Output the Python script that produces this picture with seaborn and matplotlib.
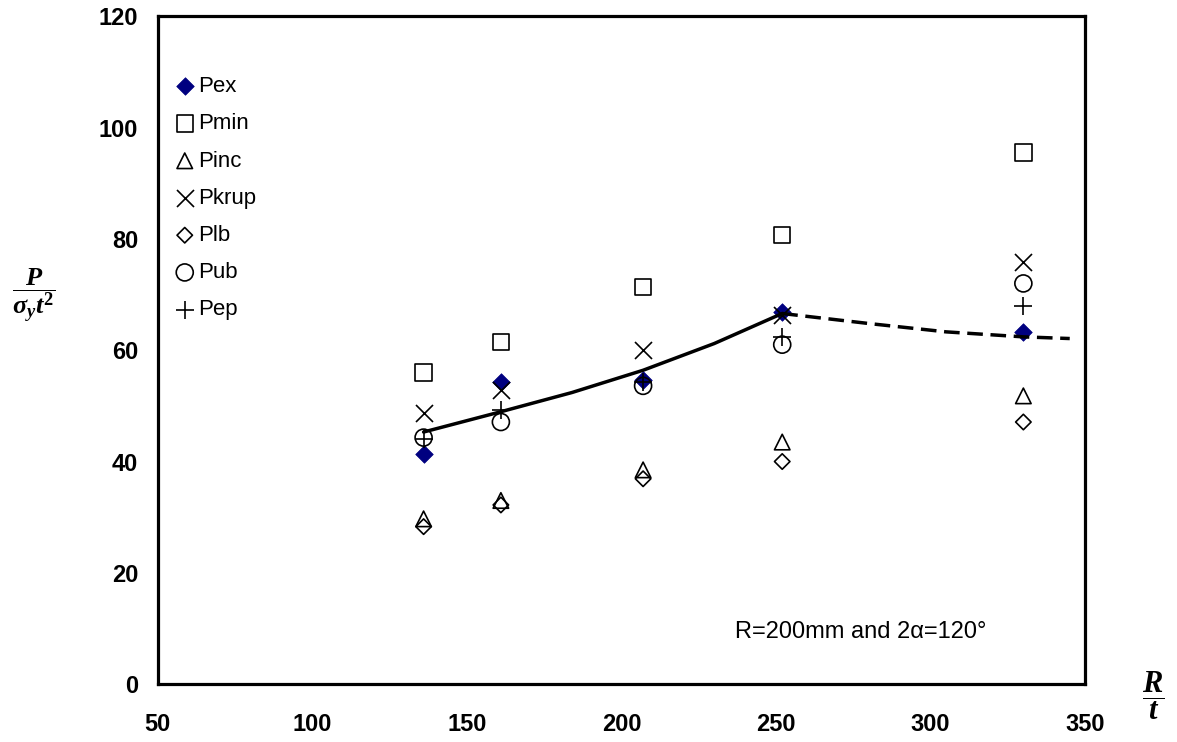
import numpy as np
import pandas as pd
import matplotlib
matplotlib.use("Agg")
import matplotlib.pyplot as plt
import seaborn as sns

# ---- values ----
rt = [136, 161, 207, 252, 330]          # R/t

p_ex   = [41.4, 54.3, 54.7, 66.9, 63.3]
p_min  = [56.0, 61.5, 71.4, 80.7, 95.5]
p_inc  = [29.7, 33.0, 38.5, 43.5, 51.8]
p_krup = [48.8, 52.9, 60.1, 66.4, 75.9]
p_lb   = [28.3, 32.2, 36.9, 40.0, 47.1]
p_ub   = [44.3, 47.1, 53.6, 61.0, 72.0]
p_ep   = [44.0, 49.3, 54.3, 62.3, 68.0]

# trend line (solid) and its extrapolation (dashed)
fit_x = [136, 160, 184, 207, 230, 252]
fit_y = [45.3, 48.8, 52.4, 56.4, 61.2, 66.6]
ext_x = [252, 280, 305, 330, 345]
ext_y = [66.6, 64.8, 63.3, 62.4, 62.1]

x_ticks = [50, 100, 150, 200, 250, 300, 350]
y_ticks = [0, 20, 40, 60, 80, 100, 120]

# ---- style ----
sns.set_style("white")
plt.rcParams["font.family"] = ["Liberation Sans", "DejaVu Sans"]
plt.rcParams["text.color"] = "black"
plt.rcParams["axes.labelcolor"] = "black"
plt.rcParams["mathtext.fontset"] = "custom"
plt.rcParams["mathtext.it"] = "Liberation Serif:italic:bold"
plt.rcParams["mathtext.rm"] = "Liberation Serif:bold"
plt.rcParams["mathtext.bf"] = "Liberation Serif:bold"

fig = plt.figure(figsize=(11.77, 7.42), dpi=100)
ax = fig.add_axes([0.134, 0.078, 0.788, 0.900])

# series: (label, values, marker, size, filled)
series = [
    ("Pex",   p_ex,   "D", 80,  True),
    ("Pmin",  p_min,  "s", 140, False),
    ("Pinc",  p_inc,  "^", 125, False),
    ("Pkrup", p_krup, "x", 150, False),
    ("Plb",   p_lb,   "D", 62,  False),
    ("Pub",   p_ub,   "o", 150, False),
    ("Pep",   p_ep,   "+", 170, False),
]

handles = []
for label, vals, marker, size, filled in series:
    df = pd.DataFrame({"rt": rt, "p": vals})
    n_before = len(ax.collections)
    if filled:
        sns.scatterplot(data=df, x="rt", y="p", marker=marker, s=size,
                        color="#000080", edgecolor="#000080", linewidth=0.5,
                        ax=ax, zorder=3)
    elif marker in ("x", "+"):
        sns.scatterplot(data=df, x="rt", y="p", marker=marker, s=size,
                        color="black", linewidth=1.2, ax=ax, zorder=4)
    else:
        sns.scatterplot(data=df, x="rt", y="p", marker=marker, s=size,
                        facecolors="none", edgecolor="black", linewidth=1.2,
                        ax=ax, zorder=4)
    handles.append(ax.collections[n_before])

sns.lineplot(x=fit_x, y=fit_y, color="black", linewidth=2.5, ax=ax, zorder=5)
sns.lineplot(x=ext_x, y=ext_y, color="black", linewidth=2.5,
             linestyle=(0, (4.5, 2.2)), ax=ax, zorder=5)

# ---- axes ----
ax.set_xlim(50, 350)
ax.set_ylim(0, 120)
ax.set_xticks(x_ticks)
ax.set_yticks(y_ticks)
ax.set_xlabel("")
ax.set_ylabel("")
for s in ax.spines.values():
    s.set_visible(True)
    s.set_linewidth(2.3)
    s.set_color("black")
ax.tick_params(axis="both", direction="out", length=5, width=1,
               labelsize=17, colors="black")
ax.tick_params(axis="x", pad=16)
ax.tick_params(axis="y", pad=9)
for t in ax.get_xticklabels() + ax.get_yticklabels():
    t.set_fontweight("bold")

leg = ax.legend(handles, [s[0] for s in series], loc="upper left",
                bbox_to_anchor=(-0.008, 0.947), frameon=False, fontsize=16,
                handlelength=0.9, handletextpad=0.15, labelspacing=0.73,
                borderpad=0.6)
for t in leg.get_texts():
    t.set_color("black")

ax.text(277.5, 9.4, "R=200mm and 2\u03b1=120\u00b0", fontsize=17,
        ha="center", va="center", color="black")

ax.text(-0.134, 0.583, r"$\dfrac{P}{\sigma_y t^2}$", transform=ax.transAxes,
        fontsize=19, ha="center", va="center", color="black")
ax.text(1.073, -0.018, r"$\dfrac{R}{t}$", transform=ax.transAxes,
        fontsize=22, ha="center", va="center", color="black")

fig.savefig("out.png", dpi=100)
